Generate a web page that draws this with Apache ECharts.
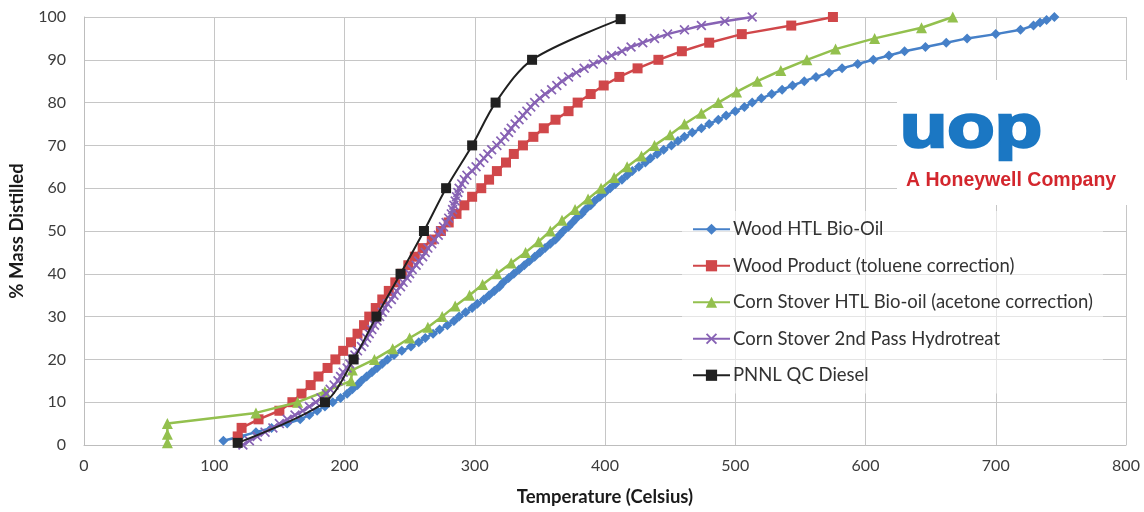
<!DOCTYPE html>
<html><head><meta charset="utf-8">
<script src="https://cdn.jsdelivr.net/npm/echarts@6/dist/echarts.min.js"></script>
<style>html,body{margin:0;padding:0;background:#fff}#c{width:1144px;height:512px}</style>
</head><body><div id="c"></div>
<script>
// ---- data ----
const seriesNames = ['Wood HTL Bio-Oil','Wood Product (toluene correction)','Corn Stover HTL Bio-oil (acetone correction)','Corn Stover 2nd Pass Hydrotreat','PNNL QC Diesel'];
const xTicks = [0,100,200,300,400,500,600,700,800];
const yTicks = [0,10,20,30,40,50,60,70,80,90,100];

const woodHtlTemp = [107,120,132,144,156,166,173,179,185,191,
 197,202,206,210,213,217,221,225,229,233,
 238,244,251,257,262,268,273,279,284,288,
 293,298,302,307,311,315,319,322,326,330,
 334,338,342,346,350,354,358,362,365,368,
 372,375,378,382,385,389,392,396,400,404,
 408,413,417,421,426,431,435,440,445,451,
 456,461,467,474,480,487,493,500,507,513,
 520,528,536,544,553,562,572,582,594,606,
 618,630,646,662,678,700,719,729,734,739,745];
const woodHtlMass = [1,2,3,4,5,6,7,8,9,10,
 11,12,13,14,15,16,17,18,19,20,
 21,22,23,24,25,26,27,28,29,30,
 31,32,33,34,35,36,37,38,39,40,
 41,42,43,44,45,46,47,48,49,50,
 51,52,53,54,55,56,57,58,59,60,
 61,62,63,64,65,66,67,68,69,70,
 71,72,73,74,75,76,77,78,79,80,
 81,82,83,84,85,86,87,88,89,90,
 91,92,93,94,95,96,97,98,98.7,99.3,100];

const woodProdTemp = [118,121,134,150,160,167,174,180,187,193,
 199,205,210,215,219,224,229,234,239,244,
 249,254,260,267,274,280,286,292,298,305,
 311,317,324,330,337,345,353,362,372,379,
 389,399,411,425,441,459,480,505,543,575];
const woodProdMass = [2,4,6,8,10,12,14,16,18,20,
 22,24,26,28,30,32,34,36,38,40,
 42,44,46,48,50,52,54,56,58,60,
 62,64,66,68,70,72,74,76,78,80,
 82,84,86,88,90,92,94,96,98,100];

const cornHtlTemp = [64,64,64,132,164,185,205,206,223,237,
 250,264,275,285,296,306,317,328,339,349,
 358,367,377,387,397,407,417,428,438,450,
 461,474,487,501,517,535,555,577,607,643,667];
const cornHtlMass = [0.5,2.5,5,7.5,10,12.5,15,17.5,20,22.5,
 25,27.5,30,32.5,35,37.5,40,42.5,45,47.5,
 50,52.5,55,57.5,60,62.5,65,67.5,70,72.5,
 75,77.5,80,82.5,85,87.5,90,92.5,95,97.5,100];

const cornHydroTemp = [122,127,133,139,145,150,156,162,168,173,
 178,182,186,189,192,195,197,199,202,204,
 206,208,210,213,215,217,219,221,223,225,
 227,229,231,233,236,238,240,243,245,248,
 250,252,255,257,260,262,264,267,269,272,
 274,276,278,280,282,283,284,285,286,287,
 288,290,292,294,298,301,304,307,310,313,
 317,320,323,326,328,331,334,337,340,343,
 346,350,354,359,363,367,372,378,384,391,
 398,405,413,420,429,438,448,461,474,492,513];
const cornHydroMass = [0,1,2,3,4,5,6,7,8,9,
 10,11,12,13,14,15,16,17,18,19,
 20,21,22,23,24,25,26,27,28,29,
 30,31,32,33,34,35,36,37,38,39,
 40,41,42,43,44,45,46,47,48,49,
 50,51,52,53,54,55,56,57,58,59,
 60,61,62,63,64,65,66,67,68,69,
 70,71,72,73,74,75,76,77,78,79,
 80,81,82,83,84,85,86,87,88,89,
 90,91,92,93,94,95,96,97,98,99,100];

const dieselTemp = [118,185,207,224.5,243,261,278,298,316,344,412];
const dieselMass = [0.5,10,20,30,40,50,60,70,80,90,99.5];

// ---- chart ----
const zip = (a,b) => a.map((v,i)=>[v,b[i]]);
const FONT = 'Lato, "Open Sans", sans-serif';
const colors = ['#4680c8','#d0474a','#93c04e','#8762b4','#202020'];
const xMark = 'path://M0,1.2L1.2,0L5,3.8L8.8,0L10,1.2L6.2,5L10,8.8L8.8,10L5,6.2L1.2,10L0,8.8L3.8,5Z';

const chart = echarts.init(document.getElementById('c'), null, {renderer:'canvas'});
chart.setOption({
  animation:false,
  color: colors,
  grid:{left:82,right:18,top:17,bottom:66,containLabel:false},
  xAxis:{type:'value',min:0,max:800,interval:100,
    name:'Temperature (Celsius)',nameLocation:'middle',nameGap:43,
    nameTextStyle:{fontFamily:FONT,fontSize:18.5,fontWeight:'bold',color:'#1a1a1a'},
    axisLine:{lineStyle:{color:'#bdbdbd'}},axisTick:{show:false},
    axisLabel:{fontFamily:FONT,fontSize:16,color:'#3c3c3c',margin:13,
      formatter:v=>xTicks.includes(v)?String(v):''},
    splitLine:{lineStyle:{color:'#c6c6c6',width:1}}},
  yAxis:{type:'value',min:0,max:100,interval:10,
    name:'% Mass Distilled',nameLocation:'middle',nameGap:57,nameRotate:90,
    nameTextStyle:{fontFamily:FONT,fontSize:18.5,fontWeight:'bold',color:'#1a1a1a'},
    axisLine:{show:true,lineStyle:{color:'#bdbdbd'}},axisTick:{show:false},
    axisLabel:{fontFamily:FONT,fontSize:16,color:'#3c3c3c',margin:18,
      formatter:v=>yTicks.includes(v)?String(v):''},
    splitLine:{lineStyle:{color:'#c6c6c6',width:1}}},
  legend:{orient:'vertical',left:682,top:211,padding:[8,10],itemGap:16,
    itemWidth:37,itemHeight:14,backgroundColor:'rgba(255,255,255,0.55)',
    textStyle:{fontFamily:FONT,fontSize:18.5,color:'#333',lineHeight:20.5,padding:[0,0,0,-2]},
    data:seriesNames},
  series:[
    {name:seriesNames[0],type:'line',data:zip(woodHtlTemp,woodHtlMass),symbol:'diamond',symbolSize:10,
      lineStyle:{width:2.5},itemStyle:{color:colors[0]},z:2},
    {name:seriesNames[1],type:'line',data:zip(woodProdTemp,woodProdMass),symbol:'rect',symbolSize:10,
      lineStyle:{width:2.5},itemStyle:{color:colors[1]},z:3},
    {name:seriesNames[2],type:'line',data:zip(cornHtlTemp,cornHtlMass),symbol:'triangle',symbolSize:11,
      lineStyle:{width:2.5},itemStyle:{color:colors[2]},z:4},
    {name:seriesNames[3],type:'line',data:zip(cornHydroTemp,cornHydroMass),symbol:xMark,symbolSize:10,
      lineStyle:{width:2.5},itemStyle:{color:colors[3]},z:5},
    {name:seriesNames[4],type:'line',data:zip(dieselTemp,dieselMass),symbol:'rect',symbolSize:10,
      smooth:0.3,lineStyle:{width:2},itemStyle:{color:colors[4]},z:6}
  ],
  graphic:[
    {type:'rect',shape:{x:897,y:80,width:233,height:125},style:{fill:'#ffffff'},z:10},
    {type:'text',x:900,y:130,scaleX:1.25,originX:0,originY:0,
      style:{text:'uop',font:'bold 62px "Liberation Sans"',fill:'#1b77c3',stroke:'#1b77c3',lineWidth:2.5,verticalAlign:'middle'},z:11},
    {type:'text',x:906,y:181,style:{text:'A Honeywell Company',font:'bold 19.5px "Liberation Sans"',fill:'#d3262d',verticalAlign:'middle'},z:11}
  ]
});
</script></body></html>
